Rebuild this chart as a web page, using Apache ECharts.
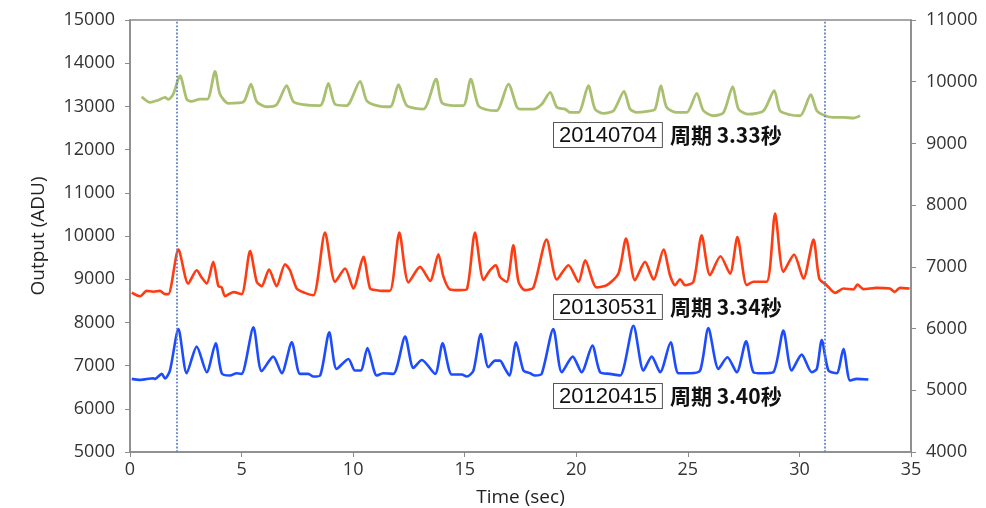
<!DOCTYPE html>
<html>
<head>
<meta charset="utf-8">
<script src="https://cdn.jsdelivr.net/npm/echarts@6/dist/echarts.min.js"></script>
<style>
html,body{margin:0;padding:0;background:#fff;}
#main{width:986px;height:508px;}
</style>
</head>
<body>
<div id="main"></div>
<script>
// 20140704 (green)
const timeGreen = [0.52,0.90,1.27,1.57,1.72,1.94,2.24,2.54,2.76,3.14,3.47,3.81,4.03,4.41,5.08,5.42,5.68,6.13,6.57,7.02,7.32,7.77,8.52,8.89,9.19,9.71,10.31,10.61,11.06,11.66,12.03,12.40,13.15,13.72,13.97,14.49,14.94,15.27,15.61,15.99,16.43,16.96,17.33,17.48,18.08,18.45,18.83,19.13,19.50,19.73,20.10,20.54,20.84,21.22,21.67,22.14,22.41,22.71,23.16,23.53,23.79,24.05,24.51,24.95,25.40,25.70,26.15,26.60,27.01,27.27,27.71,28.39,28.87,29.13,29.58,30.03,30.51,30.78,31.15,31.52,31.97,32.42,32.72]
const outGreen  = [13224,13093,13147,13208,13162,13286,13710,13170,13116,13170,13170,13810,13286,13070,13100,13517,13110,12992,13040,13479,13110,13040,13020,13532,13050,13020,13579,13130,13020,12992,13502,13020,12938,13633,13090,13020,13020,13633,13020,12923,12900,13517,12992,12938,12938,13050,13324,12980,12938,12860,12860,13479,12938,12838,12900,13347,12938,12860,12884,12938,13479,12980,12860,12860,13301,12900,12784,12860,13455,12938,12820,12900,13363,12900,12807,12784,13270,12900,12784,12745,12745,12730,12784]

// 20130531 (red)
const timeRed = [0.08,0.45,0.75,1.05,1.34,1.57,1.72,2.17,2.61,2.99,3.21,3.44,3.73,3.96,4.11,4.26,4.63,5.00,5.38,5.68,5.90,6.23,6.57,6.95,7.17,7.47,7.84,8.22,8.74,9.19,9.64,10.01,10.46,10.76,11.06,11.28,11.65,12.07,12.48,13.00,13.45,13.82,14.04,14.34,14.79,15.09,15.46,15.84,16.14,16.40,16.58,16.88,17.18,17.41,17.70,18.08,18.67,19.13,19.65,20.10,20.40,20.91,21.37,21.89,22.23,22.63,23.08,23.46,23.91,24.20,24.43,24.65,24.88,25.25,25.62,25.99,26.46,26.89,27.22,27.64,27.94,28.53,28.91,29.28,29.76,30.18,30.63,30.89,31.22,31.60,31.97,32.42,32.60,32.87,33.46,34.05,34.27,34.50,34.94]
const outRed  = [8692,8607,8730,8710,8730,8654,8654,9685,8900,9208,9040,8900,9400,8840,8810,8607,8700,8654,9654,8940,8840,9223,8840,9346,9208,8784,8684,8630,10078,8940,9246,8784,9516,8784,8746,8730,8730,10078,8925,9285,8962,9577,9070,8762,8746,8762,10078,8985,9208,9323,9054,8940,9785,8940,8746,8810,9916,8992,9323,8940,9439,8810,8862,9130,9939,8977,9400,8992,9685,9092,8862,9000,8862,8940,10016,9092,9531,9130,9978,8862,8940,8940,10517,9170,9570,9015,9916,9015,8862,8684,8784,8762,8877,8770,8800,8784,8707,8800,8784]

// 20120415 (blue)
const timeBlue = [0.08,0.45,1.05,1.12,1.42,1.57,1.79,2.17,2.54,2.99,3.44,3.84,4.11,4.48,4.78,5.00,5.53,5.90,6.42,6.80,7.25,7.62,7.99,8.22,8.52,8.93,9.26,9.79,10.08,10.34,10.64,11.06,11.35,11.80,12.33,12.70,13.08,13.67,14.01,14.42,14.87,15.09,15.39,15.72,16.06,16.36,16.58,16.81,17.00,17.30,17.63,17.93,18.15,18.45,18.97,19.35,19.84,20.24,20.72,21.07,21.51,21.96,22.56,23.01,23.38,23.76,24.23,24.58,25.10,25.55,25.92,26.37,26.77,27.19,27.61,27.94,28.31,28.83,29.28,29.65,30.10,30.55,30.78,31.00,31.30,31.67,31.97,32.27,32.57,33.09]
const outBlue  = [6692,6669,6708,6692,6808,6700,6885,7847,6823,7439,6846,7516,6823,6770,6823,6808,7886,6870,7208,6823,7539,6808,6808,6746,6770,7770,6923,7154,6885,6885,7408,6770,6823,6808,7670,6946,7131,6808,7516,6793,6793,6746,6885,7732,6962,7116,7116,6923,6770,7539,6885,6823,6770,6808,7847,6846,7208,6846,7462,6846,6808,6770,7924,6885,7208,6846,7539,6823,6823,6885,7870,6923,7193,6846,7562,6846,6823,6846,7809,6885,7254,6846,6923,7593,6885,6823,7385,6654,6692,6677]

// 周期の区間
const periodMarks = [2.1, 31.15]

const labels = [
    {date:'20140704', text:'周期 3.33秒', top:122},
    {date:'20130531', text:'周期 3.34秒', top:294},
    {date:'20120415', text:'周期 3.40秒', top:383}
]

function pairs(t, v){
    return t.map((x,i) => [x, v[i]])
}

const myEcharts = echarts.init(document.getElementById('main'))
const axisColor = '#8a8a8a'
const axisLabel = {color:'#333', fontSize:18, fontFamily:'"Open Sans", sans-serif', margin:15,
    formatter:v => String(v)}

const option = {
    backgroundColor:'#fff',
    animation:false,
    grid:{left:130, right:75, top:20, bottom:56, outerBoundsMode:'none', containLabel:false,
        show:true, borderColor:axisColor, borderWidth:1.5},
    xAxis:{
        type:'value', min:0, max:35, interval:5,
        name:'Time (sec)', nameLocation:'middle', nameGap:36,
        nameTextStyle:{color:'#222', fontSize:19, fontFamily:'"Open Sans", sans-serif'},
        axisLine:{lineStyle:{color:axisColor, width:1.5}},
        axisTick:{lineStyle:{color:axisColor}, length:5},
        axisLabel:Object.assign({}, axisLabel, {margin:9}), splitLine:{show:false}
    },
    yAxis:[{
        type:'value', min:5000, max:15000, interval:1000,
        name:'Output (ADU)', nameLocation:'middle', nameGap:82,
        nameTextStyle:{color:'#222', fontSize:19, fontFamily:'"Open Sans", sans-serif'},
        axisLine:{show:true, lineStyle:{color:axisColor, width:1.5}},
        axisTick:{show:true, lineStyle:{color:axisColor}, length:5},
        axisLabel:axisLabel, splitLine:{show:false}
    },{
        type:'value', min:4000, max:11000, interval:1000, position:'right',
        axisLine:{show:true, lineStyle:{color:axisColor, width:1.5}},
        axisTick:{show:true, lineStyle:{color:axisColor}, length:5},
        axisLabel:axisLabel, splitLine:{show:false}
    }],
    series:[
        {
            name:'20140704', type:'line', data:pairs(timeGreen, outGreen), smooth:0.25,
            showSymbol:false, lineStyle:{color:'#a9c071', width:2.8}
        },
        {
            name:'20130531', type:'line', data:pairs(timeRed, outRed), smooth:0.25,
            showSymbol:false, lineStyle:{color:'#ff3b12', width:2.6}
        },
        {
            name:'20120415', type:'line', data:pairs(timeBlue, outBlue), smooth:0.25,
            showSymbol:false, lineStyle:{color:'#1d4cff', width:2.6},
            markLine:{
                silent:true, symbol:'none', label:{show:false},
                lineStyle:{color:'#5f83c9', type:'dotted', width:1.8},
                data:periodMarks.map(x => ({xAxis:x}))
            }
        }
    ],
    graphic:labels.map(l => ({
        type:'text', left:553, top:l.top, z:100,
        style:{
            text:'{d|' + l.date + '}{p|' + l.text + '}',
            rich:{
                d:{fontSize:22, fill:'#111', fontFamily:'"Liberation Sans", Arial, sans-serif', lineHeight:20,
                   borderColor:'#555', borderWidth:1, padding:[2,5,0,5], backgroundColor:'#fff'},
                p:{fontSize:21, fontWeight:'bold', fill:'#111', lineHeight:20, padding:[0,0,0,8],
                   fontFamily:'"Noto Sans CJK JP", "Liberation Sans", sans-serif'}
            }
        }
    }))
}
myEcharts.setOption(option)
</script>
</body>
</html>
